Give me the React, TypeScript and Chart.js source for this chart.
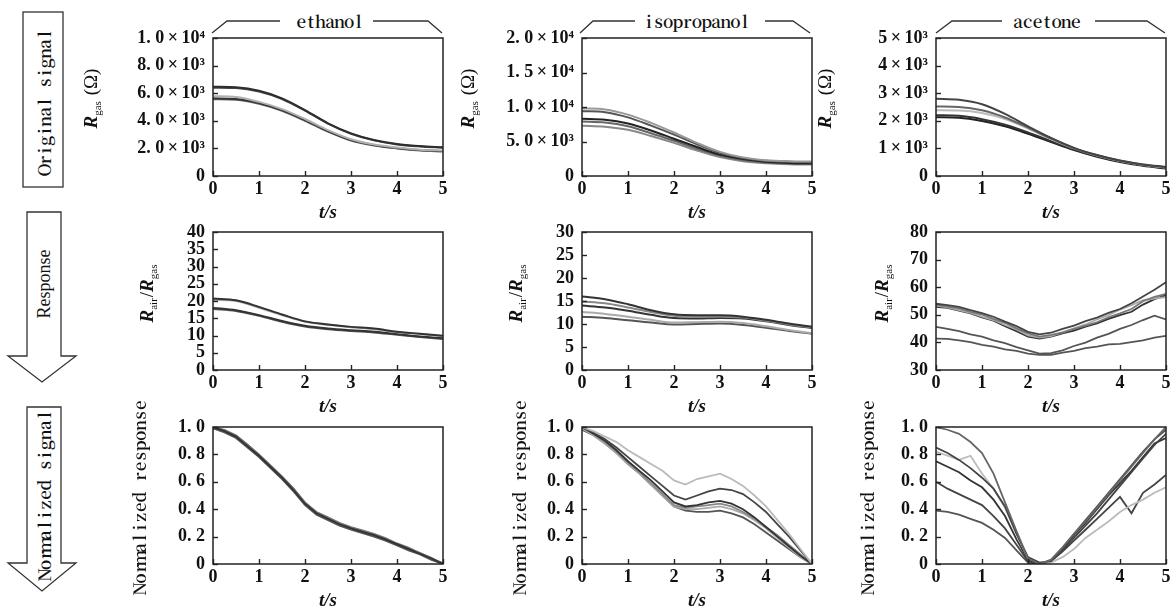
import { useEffect, useRef } from 'react';
import { Chart, registerables } from 'chart.js';

Chart.register(...registerables);

const SERIF = '"Liberation Serif", "Times New Roman", serif';
const CJK_SERIF = '"Noto Serif CJK SC", "Liberation Serif", serif';

// ---------- data ----------
const tCoarse = [0, 0.5, 1, 1.5, 2, 2.5, 3, 3.5, 4, 4.5, 5];
const tFine = [0, 0.25, 0.5, 0.75, 1, 1.25, 1.5, 1.75, 2, 2.25, 2.5, 2.75, 3, 3.25, 3.5, 3.75, 4, 4.25, 4.5, 4.75, 5];

const xTickLabels = ['0', '1', '2', '3', '4', '5'];
const xTitle = 't/s';
const gasNames = ['ethanol', 'isopropanol', 'acetone'];
const stageNames = ['Original signal', 'Response', 'Normalized signal'];

// Original signal (Ω)
const ethRaw1 = [6470, 6430, 6180, 5630, 4780, 3820, 3090, 2610, 2320, 2170, 2080];
const ethRaw2 = [6400, 6370, 6120, 5580, 4740, 3790, 3060, 2580, 2290, 2140, 2050];
const ethRaw3 = [5780, 5720, 5370, 4850, 4130, 3320, 2660, 2280, 2060, 1910, 1840];
const ethRaw4 = [5630, 5580, 5290, 4780, 4060, 3260, 2610, 2250, 2030, 1880, 1810];
const ethRaw5 = [5560, 5520, 5230, 4720, 4000, 3210, 2570, 2210, 2000, 1850, 1780];

const isoRaw1 = [9800, 9650, 8900, 7700, 6300, 4800, 3500, 2700, 2300, 2150, 2100];
const isoRaw2 = [9400, 9250, 8500, 7300, 6000, 4600, 3350, 2600, 2200, 2050, 2000];
const isoRaw3 = [8300, 8150, 7600, 6600, 5400, 4200, 3100, 2450, 2050, 1900, 1850];
const isoRaw4 = [7900, 7750, 7200, 6200, 5100, 3950, 2950, 2300, 1950, 1800, 1750];
const isoRaw5 = [7300, 7150, 6700, 5800, 4800, 3700, 2750, 2150, 1850, 1700, 1650];

const aceRaw1 = [2800, 2760, 2600, 2250, 1800, 1380, 1020, 760, 560, 420, 330];
const aceRaw2 = [2520, 2500, 2380, 2120, 1750, 1360, 1010, 750, 550, 410, 320];
const aceRaw3 = [2380, 2370, 2280, 2060, 1720, 1340, 1000, 740, 540, 400, 310];
const aceRaw4 = [2200, 2180, 2060, 1860, 1580, 1260, 960, 720, 530, 390, 300];
const aceRaw5 = [2130, 2110, 1990, 1800, 1530, 1230, 940, 700, 510, 370, 270];

// Response Rair/Rgas
const ethResp1 = [20.7, 20.2, 18.3, 16.1, 14.1, 13.2, 12.5, 12.0, 11.1, 10.5, 9.9];
const ethResp2 = [20.3, 20.0, 18.0, 15.9, 14.0, 13.1, 12.4, 11.8, 11.0, 10.4, 9.8];
const ethResp3 = [18.0, 17.3, 15.9, 14.2, 12.8, 12.0, 11.5, 11.1, 10.4, 9.7, 9.2];
const ethResp4 = [17.7, 17.1, 15.7, 14.0, 12.6, 11.8, 11.3, 10.9, 10.2, 9.6, 9.0];

const isoResp1 = [16.0, 15.4, 14.3, 13.0, 12.1, 11.9, 11.9, 11.6, 10.9, 10.1, 9.4];
const isoResp2 = [14.9, 14.5, 13.6, 12.6, 11.8, 11.6, 11.6, 11.4, 10.7, 9.9, 9.2];
const isoResp3 = [14.0, 13.6, 12.9, 12.0, 11.3, 11.2, 11.3, 11.2, 10.6, 9.8, 9.1];
const isoResp4 = [12.6, 12.2, 11.6, 10.9, 10.3, 10.4, 10.5, 10.2, 9.5, 8.7, 8.0];
const isoResp5 = [11.6, 11.3, 10.8, 10.3, 9.9, 10.0, 10.1, 9.8, 9.2, 8.5, 7.9];

const aceResp1 = [54.0, 53.5, 52.9, 51.7, 50.6, 49.3, 47.5, 45.9, 43.8, 42.9, 43.5, 44.9, 46.1, 47.7, 49.0, 50.7, 52.1, 54.2, 56.6, 59.1, 61.8];
const aceResp2 = [53.7, 53.0, 52.3, 51.1, 50.1, 48.5, 47.1, 45.1, 43.3, 42.1, 42.7, 43.5, 44.9, 46.1, 47.3, 49.1, 50.5, 52.1, 54.9, 56.5, 57.6];
const aceResp3 = [53.3, 52.7, 51.7, 50.7, 49.3, 48.1, 46.3, 44.7, 42.5, 41.7, 42.3, 43.7, 45.1, 46.5, 48.3, 49.9, 51.9, 53.5, 55.3, 55.9, 56.4];
const aceResp4 = [52.9, 52.5, 51.5, 50.5, 49.1, 47.9, 45.9, 44.1, 42.1, 41.4, 42.1, 43.3, 44.3, 45.7, 46.9, 48.5, 49.9, 51.1, 53.7, 55.7, 57.1];
const aceResp5 = [45.6, 44.9, 44.1, 42.9, 42.1, 40.7, 39.7, 38.3, 37.1, 35.9, 36.1, 37.1, 38.7, 39.9, 41.7, 43.1, 44.9, 46.3, 48.1, 49.7, 48.3];
const aceResp6 = [41.4, 41.3, 40.7, 40.1, 39.1, 38.5, 37.5, 36.9, 35.9, 35.5, 35.5, 36.3, 36.9, 37.9, 38.5, 39.3, 39.5, 40.1, 40.7, 41.7, 42.4];

// Normalized response
const ethNorm1 = [1.0, 0.97, 0.93, 0.86, 0.79, 0.71, 0.63, 0.54, 0.44, 0.37, 0.33, 0.29, 0.26, 0.235, 0.21, 0.18, 0.145, 0.11, 0.075, 0.04, 0.0];
const ethNorm2 = [0.99, 0.96, 0.92, 0.85, 0.78, 0.7, 0.62, 0.53, 0.43, 0.36, 0.32, 0.28, 0.25, 0.225, 0.2, 0.17, 0.135, 0.1, 0.07, 0.03, 0.0];
const ethNorm3 = [1.0, 0.98, 0.94, 0.87, 0.8, 0.72, 0.64, 0.55, 0.45, 0.38, 0.34, 0.3, 0.27, 0.245, 0.22, 0.19, 0.15, 0.12, 0.08, 0.045, 0.0];
const ethNorm4 = [0.99, 0.97, 0.935, 0.87, 0.795, 0.715, 0.635, 0.55, 0.445, 0.375, 0.335, 0.295, 0.265, 0.24, 0.215, 0.18, 0.14, 0.11, 0.08, 0.04, 0.005];

const isoNorm1 = [1.0, 0.97, 0.93, 0.89, 0.83, 0.78, 0.73, 0.68, 0.61, 0.58, 0.62, 0.64, 0.66, 0.62, 0.57, 0.5, 0.42, 0.32, 0.22, 0.11, 0.0];
const isoNorm2 = [1.0, 0.96, 0.91, 0.85, 0.78, 0.71, 0.64, 0.57, 0.5, 0.47, 0.5, 0.53, 0.55, 0.54, 0.51, 0.45, 0.38, 0.29, 0.2, 0.1, 0.0];
const isoNorm3 = [1.0, 0.95, 0.9, 0.83, 0.75, 0.68, 0.61, 0.53, 0.45, 0.42, 0.43, 0.45, 0.46, 0.44, 0.4, 0.34, 0.27, 0.2, 0.13, 0.06, 0.0];
const isoNorm4 = [1.0, 0.95, 0.89, 0.82, 0.74, 0.67, 0.59, 0.51, 0.43, 0.41, 0.42, 0.43, 0.44, 0.42, 0.38, 0.33, 0.27, 0.21, 0.14, 0.07, 0.0];
const isoNorm5 = [0.99, 0.94, 0.88, 0.81, 0.73, 0.66, 0.58, 0.5, 0.42, 0.4, 0.4, 0.41, 0.42, 0.4, 0.37, 0.32, 0.26, 0.19, 0.12, 0.05, 0.0];
const isoNorm6 = [0.98, 0.94, 0.88, 0.81, 0.73, 0.66, 0.58, 0.5, 0.42, 0.39, 0.38, 0.38, 0.39, 0.37, 0.34, 0.29, 0.23, 0.17, 0.11, 0.05, 0.0];

const aceNorm1 = [1.0, 0.98, 0.95, 0.89, 0.81, 0.66, 0.45, 0.24, 0.04, 0.0, 0.03, 0.12, 0.22, 0.31, 0.41, 0.51, 0.61, 0.71, 0.81, 0.91, 1.0];
const aceNorm2 = [0.85, 0.81, 0.76, 0.7, 0.63, 0.55, 0.42, 0.22, 0.05, 0.01, 0.02, 0.1, 0.19, 0.28, 0.37, 0.47, 0.57, 0.67, 0.77, 0.87, 0.95];
const aceNorm3 = [0.82, 0.79, 0.76, 0.79, 0.66, 0.55, 0.41, 0.22, 0.04, 0.01, 0.01, 0.05, 0.11, 0.19, 0.25, 0.31, 0.38, 0.43, 0.47, 0.52, 0.56];
const aceNorm4 = [0.75, 0.71, 0.67, 0.61, 0.56, 0.47, 0.35, 0.18, 0.03, 0.0, 0.02, 0.11, 0.21, 0.3, 0.4, 0.5, 0.59, 0.68, 0.78, 0.88, 0.92];
const aceNorm5 = [0.6, 0.55, 0.51, 0.47, 0.43, 0.35, 0.26, 0.14, 0.02, 0.0, 0.02, 0.09, 0.17, 0.25, 0.33, 0.41, 0.49, 0.37, 0.52, 0.58, 0.65];
const aceNorm6 = [0.39, 0.38, 0.36, 0.33, 0.3, 0.25, 0.19, 0.1, 0.01, 0.0, 0.03, 0.12, 0.22, 0.32, 0.42, 0.52, 0.62, 0.72, 0.82, 0.91, 0.98];

// tick labels (bottom to top)
const ethRawTicks = ['0', '2. 0\u2009×\u200910³', '4. 0\u2009×\u200910³', '6. 0\u2009×\u200910³', '8. 0\u2009×\u200910³', '1. 0\u2009×\u200910⁴'];
const isoRawTicks = ['0', '5. 0\u2009×\u200910³', '1. 0\u2009×\u200910⁴', '1. 5\u2009×\u200910⁴', '2. 0\u2009×\u200910⁴'];
const aceRawTicks = ['0', '1\u2009×\u200910³', '2\u2009×\u200910³', '3\u2009×\u200910³', '4\u2009×\u200910³', '5\u2009×\u200910³'];
const ethRespTicks = ['0', '5', '10', '15', '20', '25', '30', '35', '40'];
const isoRespTicks = ['0', '5', '10', '15', '20', '25', '30'];
const aceRespTicks = ['30', '40', '50', '60', '70', '80'];
const normTicks = ['0', '0. 2', '0. 4', '0. 6', '0. 8', '1. 0'];

// ---------- layout ----------
type Part = { text: string; italic?: boolean; sub?: boolean; mono?: boolean };
const titleRaw: Part[] = [{ text: 'R', italic: true }, { text: 'gas', sub: true }, { text: ' (Ω)' }];
const titleResp: Part[] = [
  { text: 'R', italic: true }, { text: 'air', sub: true }, { text: '/' },
  { text: 'R', italic: true }, { text: 'gas', sub: true },
];
const titleNorm: Part[] = [{ text: 'Normalized response', mono: true }];

const COLS = [[213, 443], [582, 812], [936, 1166]];
const ROWS = [[38, 176], [232, 370], [427, 564]];

interface PanelDef {
  col: number; row: number; t: number[]; series: number[][]; colors: string[];
  yMin: number; yMax: number; yStep: number; yLabels: string[];
  title: Part[]; titleX: number; titleY: number; smooth: boolean; width: number;
}

const panels: PanelDef[] = [
  { col: 0, row: 0, t: tCoarse, series: [ethRaw1, ethRaw2, ethRaw3, ethRaw4, ethRaw5], colors: ['#2e2e2e', '#4a4a4a', '#b0b0b0', '#333', '#666'], yMin: 0, yMax: 10000, yStep: 2000, yLabels: ethRawTicks, title: titleRaw, titleX: 97, titleY: 99, smooth: true, width: 2 },
  { col: 1, row: 0, t: tCoarse, series: [isoRaw1, isoRaw2, isoRaw3, isoRaw4, isoRaw5], colors: ['#999', '#555', '#222', '#666', '#888'], yMin: 0, yMax: 20000, yStep: 5000, yLabels: isoRawTicks, title: titleRaw, titleX: 474, titleY: 99, smooth: true, width: 2 },
  { col: 2, row: 0, t: tCoarse, series: [aceRaw1, aceRaw2, aceRaw3, aceRaw4, aceRaw5], colors: ['#444', '#666', '#bbb', '#333', '#222'], yMin: 0, yMax: 5000, yStep: 1000, yLabels: aceRawTicks, title: titleRaw, titleX: 831, titleY: 99, smooth: true, width: 2 },
  { col: 0, row: 1, t: tCoarse, series: [ethResp1, ethResp2, ethResp3, ethResp4], colors: ['#333', '#aaa', '#333', '#555'], yMin: 0, yMax: 40, yStep: 5, yLabels: ethRespTicks, title: titleResp, titleX: 153, titleY: 294, smooth: true, width: 2 },
  { col: 1, row: 1, t: tCoarse, series: [isoResp1, isoResp2, isoResp3, isoResp4, isoResp5], colors: ['#333', '#888', '#333', '#aaa', '#555'], yMin: 0, yMax: 30, yStep: 5, yLabels: isoRespTicks, title: titleResp, titleX: 522, titleY: 294, smooth: true, width: 2 },
  { col: 2, row: 1, t: tFine, series: [aceResp1, aceResp2, aceResp3, aceResp4, aceResp5, aceResp6], colors: ['#444', '#777', '#aaa', '#333', '#555', '#555'], yMin: 30, yMax: 80, yStep: 10, yLabels: aceRespTicks, title: titleResp, titleX: 888, titleY: 294, smooth: false, width: 1.8 },
  { col: 0, row: 2, t: tFine, series: [ethNorm1, ethNorm2, ethNorm3, ethNorm4], colors: ['#333', '#555', '#777', '#444'], yMin: 0, yMax: 1, yStep: 0.2, yLabels: normTicks, title: titleNorm, titleX: 140, titleY: 497, smooth: false, width: 1.8 },
  { col: 1, row: 2, t: tFine, series: [isoNorm1, isoNorm2, isoNorm3, isoNorm4, isoNorm5, isoNorm6], colors: ['#bbb', '#444', '#333', '#888', '#aaa', '#555'], yMin: 0, yMax: 1, yStep: 0.2, yLabels: normTicks, title: titleNorm, titleX: 520, titleY: 497, smooth: false, width: 1.8 },
  { col: 2, row: 2, t: tFine, series: [aceNorm1, aceNorm2, aceNorm3, aceNorm4, aceNorm5, aceNorm6], colors: ['#666', '#444', '#bbb', '#333', '#444', '#555'], yMin: 0, yMax: 1, yStep: 0.2, yLabels: normTicks, title: titleNorm, titleX: 868, titleY: 497, smooth: false, width: 1.8 },
];

const Y_AXIS_W = 140;
const PAD_TOP = 36;
const PAD_RIGHT = 10;
const X_AXIS_H = 48;
const FONT_SIZE = 18;

function drawRich(ctx: CanvasRenderingContext2D, parts: Part[], bx: number, cy: number) {
  ctx.save();
  ctx.translate(bx, cy);
  ctx.rotate(-Math.PI / 2);
  if (parts.length === 1 && parts[0].mono) {
    // SimSun-like: serif glyphs in fixed half-width cells
    const text = parts[0].text;
    const cell = 10.2;
    ctx.font = `600 17px ${CJK_SERIF}`;
    ctx.textAlign = 'center';
    ctx.textBaseline = 'middle';
    const start = -(text.length * cell) / 2;
    for (let i = 0; i < text.length; i++) ctx.fillText(text[i], start + cell * (i + 0.5), 0);
    ctx.restore();
    return;
  }
  const fonts = parts.map((p) =>
    p.sub ? `11px ${SERIF}` : `${p.italic ? 'italic bold ' : ''}19px ${SERIF}`
  );
  const widths = parts.map((p, i) => { ctx.font = fonts[i]; return ctx.measureText(p.text).width; });
  const total = widths.reduce((a, b) => a + b, 0);
  ctx.textAlign = 'left';
  ctx.textBaseline = 'alphabetic';
  let x = -total / 2;
  parts.forEach((p, i) => {
    ctx.font = fonts[i];
    ctx.fillText(p.text, x, p.sub ? 4 : 0);
    x += widths[i] + (p.sub ? 1 : 0);
  });
  ctx.restore();
}

const framePlugin = {
  id: 'frame',
  afterDraw(chart: any, _args: any, opts: any) {
    const { ctx, chartArea: a, scales } = chart;
    ctx.save();
    ctx.strokeStyle = '#222';
    ctx.lineWidth = 1.5;
    ctx.strokeRect(a.left, a.top, a.right - a.left, a.bottom - a.top);
    ctx.lineWidth = 1.4;
    scales.x.ticks.forEach((tk: any) => {
      const px = Math.round(scales.x.getPixelForValue(tk.value)) + 0.5;
      ctx.beginPath(); ctx.moveTo(px, a.bottom); ctx.lineTo(px, a.bottom - 5); ctx.stroke();
    });
    scales.y.ticks.forEach((tk: any) => {
      const py = Math.round(scales.y.getPixelForValue(tk.value)) + 0.5;
      ctx.beginPath(); ctx.moveTo(a.left, py); ctx.lineTo(a.left + 5, py); ctx.stroke();
    });
    ctx.fillStyle = '#111';
    drawRich(ctx, opts.parts, opts.bx, opts.cy);
    ctx.font = `italic bold 19px ${SERIF}`;
    ctx.textAlign = 'center';
    ctx.textBaseline = 'middle';
    ctx.fillText(xTitle, (a.left + a.right) / 2, a.bottom + 37);
    ctx.restore();
  },
};

function Panel({ def }: { def: PanelDef }) {
  const ref = useRef<HTMLCanvasElement>(null);
  const [L, R] = COLS[def.col];
  const [T, B] = ROWS[def.row];
  const cl = L - Y_AXIS_W;
  const ct = T - PAD_TOP;
  const cw = R + PAD_RIGHT - cl;
  const ch = B + X_AXIS_H - ct;
  useEffect(() => {
    const tickFont = { family: SERIF, size: FONT_SIZE, weight: 'bold' };
    const chart = new Chart(ref.current as HTMLCanvasElement, {
      type: 'line',
      data: {
        datasets: def.series.map((s, i) => ({
          data: s.map((y, j) => ({ x: def.t[j], y })),
          borderColor: def.colors[i],
          borderWidth: def.width,
          pointRadius: 0,
          fill: false,
          tension: def.smooth ? 0.4 : 0,
          cubicInterpolationMode: def.smooth ? 'monotone' : 'default',
        })),
      },
      options: {
        animation: false,
        responsive: false,
        devicePixelRatio: 1,
        layout: { padding: { left: 0, top: PAD_TOP, right: PAD_RIGHT, bottom: 0 } },
        plugins: {
          legend: { display: false },
          tooltip: { enabled: false },
          frame: { parts: def.title, bx: def.titleX - cl, cy: def.titleY - ct },
        },
        scales: {
          x: {
            type: 'linear', min: 0, max: 5,
            grid: { display: false, drawTicks: false },
            border: { display: false },
            ticks: {
              stepSize: 1, padding: 3, color: '#111', font: tickFont, maxRotation: 0, autoSkip: false,
              callback: (_v: any, i: number) => xTickLabels[i],
            },
            afterFit: (s: any) => { s.height = X_AXIS_H; },
          },
          y: {
            type: 'linear', min: def.yMin, max: def.yMax,
            grid: { display: false, drawTicks: false },
            border: { display: false },
            ticks: {
              stepSize: def.yStep, padding: 8, color: '#111', font: tickFont, autoSkip: false,
              callback: (_v: any, i: number) => def.yLabels[i],
            },
            afterFit: (s: any) => { s.width = Y_AXIS_W; },
          },
        },
      } as any,
      plugins: [framePlugin as any],
    });
    return () => chart.destroy();
  }, []);
  return (
    <canvas
      ref={ref}
      width={cw}
      height={ch}
      style={{ position: 'absolute', left: cl, top: ct, width: cw, height: ch }}
    />
  );
}

const brackets = [
  { left: [[212, 33], [227, 21], [280, 21]], right: [[373, 21], [428, 21], [442, 33]], tx: 330 },
  { left: [[580, 33], [593, 21], [635, 21]], right: [[765, 21], [793, 21], [810, 33]], tx: 697 },
  { left: [[936, 33], [952, 21], [1002, 21]], right: [[1095, 21], [1147, 21], [1165, 33]], tx: 1047 },
];

// SimSun-like text: serif glyphs centred in fixed cells, one text element
function CellText({ text, cx, cy, cell, size, vertical }: { text: string; cx: number; cy: number; cell: number; size: number; vertical?: boolean }) {
  const start = -(text.length * cell) / 2;
  const xs = Array.from(text).map((_, i) => (start + cell * (i + 0.5)).toFixed(2)).join(' ');
  return (
    <text
      x={xs}
      y={0}
      transform={`translate(${cx},${cy})${vertical ? ' rotate(-90)' : ''}`}
      textAnchor="middle"
      dominantBaseline="central"
      fontFamily={CJK_SERIF}
      fontSize={size}
      fontWeight={600}
      fill="#111"
      style={{ whiteSpace: 'pre' }}
    >
      {text}
    </text>
  );
}

function Decorations() {
  const stroke = '#333';
  const pts = (a: number[][]) => a.map((p) => p.join(',')).join(' ');
  return (
    <svg width={1170} height={610} style={{ position: 'absolute', left: 0, top: 0 }}>
      <rect x={23} y={12} width={40} height={175} fill="none" stroke={stroke} strokeWidth={1.3} />
      <CellText text={stageNames[0]} cx={43} cy={102} cell={9.7} size={17} vertical />
      <polygon points="27,212 61,212 61,356 76,356 42,382 8,356 27,356" fill="none" stroke={stroke} strokeWidth={1.3} />
      <text x={0} y={0} transform="translate(50,284) rotate(-90)" textAnchor="middle" fontFamily={SERIF} fontSize={18} fill="#111">{stageNames[1]}</text>
      <polygon points="27,407 61,407 61,563 76,563 42,591 8,563 27,563" fill="none" stroke={stroke} strokeWidth={1.3} />
      <CellText text={stageNames[2]} cx={43} cy={495} cell={10} size={17} vertical />
      {brackets.map((b, i) => (
        <g key={i}>
          <polyline points={pts(b.left)} fill="none" stroke={stroke} strokeWidth={1.3} />
          <polyline points={pts(b.right)} fill="none" stroke={stroke} strokeWidth={1.3} />
          <CellText text={gasNames[i]} cx={b.tx} cy={20} cell={9.6} size={17} />
        </g>
      ))}
    </svg>
  );
}

export default function App() {
  return (
    <div style={{ position: 'absolute', left: 0, top: 0, width: 1170, height: 610, overflow: 'hidden', background: '#fff' }}>
      <Decorations />
      {panels.map((p, i) => <Panel key={i} def={p} />)}
    </div>
  );
}
